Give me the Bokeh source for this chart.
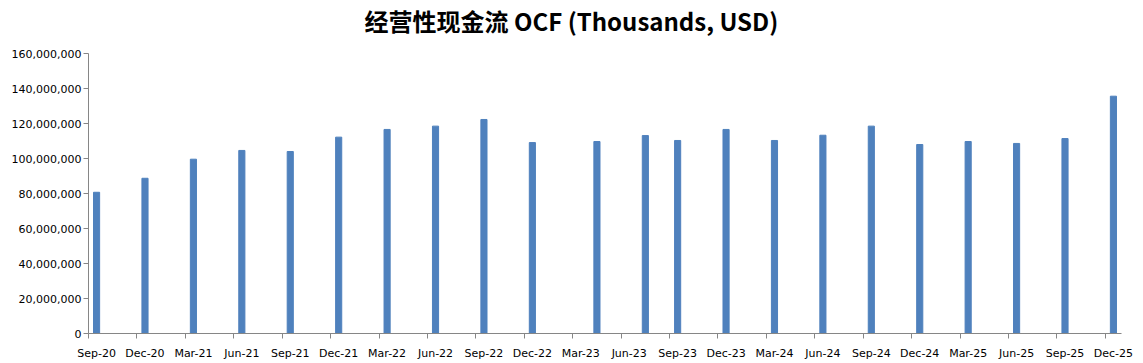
from bokeh.plotting import figure
from bokeh.models import FixedTicker, NumeralTickFormatter, Range1d, ColumnDataSource, Title
from bokeh.embed import file_html
from bokeh.resources import INLINE

# Report periods (year-month) and operating cash flow values (thousands USD)
periods = ["2020-09", "2020-12", "2021-03", "2021-06", "2021-09", "2021-12",
           "2022-03", "2022-06", "2022-09", "2022-12", "2023-04", "2023-07",
           "2023-09", "2023-12", "2024-03", "2024-06", "2024-09", "2024-12",
           "2025-03", "2025-06", "2025-09", "2025-12"]
ocf = [80.7e6, 88.7e6, 99.6e6, 104.6e6, 104.0e6, 112.2e6,
       116.6e6, 118.5e6, 122.3e6, 109.1e6, 109.7e6, 113.1e6,
       110.3e6, 116.6e6, 110.3e6, 113.3e6, 118.5e6, 108.0e6,
       109.7e6, 108.6e6, 111.4e6, 135.6e6]
tick_labels = ["Sep-20", "Dec-20", "Mar-21", "Jun-21", "Sep-21", "Dec-21",
               "Mar-22", "Jun-22", "Sep-22", "Dec-22", "Mar-23", "Jun-23",
               "Sep-23", "Dec-23", "Mar-24", "Jun-24", "Sep-24", "Dec-24",
               "Mar-25", "Jun-25", "Sep-25", "Dec-25"]
y_ticks = [0, 20e6, 40e6, 60e6, 80e6, 100e6, 120e6, 140e6, 160e6]
title_text = "经营性现金流 OCF (Thousands, USD)"


def month_index(s):
    y, m = s.split("-")
    return (int(y) - 2020) * 12 + (int(m) - 9)


xs = [month_index(p) + 0.5 for p in periods]
src = ColumnDataSource(dict(x=xs, top=ocf))

n_months = len(tick_labels) * 3 - 2  # Sep-20 .. Dec-25 inclusive
p = figure(width=1143, height=363, output_backend="svg", toolbar_location=None,
           x_range=Range1d(0, n_months), y_range=Range1d(0, 160e6),
           min_border_left=88, min_border_right=22, min_border_top=53,
           min_border_bottom=30)

p.vbar(x="x", top="top", width=0.38, source=src, color="#4F81BD")

# spacer between frame and title (pushes the title upward)
p.add_layout(Title(text=" ", text_font_size="12px", standoff=0), "above")

# title
p.title.text = title_text
p.title.text_font = "Noto Sans CJK SC"
p.title.text_font_size = "24px"
p.title.text_font_style = "bold"
p.title.text_line_height = 0.9
p.title.align = "left"
p.title.offset = 276
p.title.standoff = 0
p.title.text_color = "#000000"

p.outline_line_color = None
p.xgrid.grid_line_color = None
p.ygrid.grid_line_color = None
p.background_fill_color = "white"
p.border_fill_color = "white"

# x axis: labels centred in month cells, tick marks at cell boundaries
label_pos = [i * 3 + 0.5 for i in range(len(tick_labels))]
boundary = [i * 3 for i in range(len(tick_labels))]
xa = p.xaxis[0]
xa.ticker = FixedTicker(ticks=label_pos, minor_ticks=boundary)
xa.major_label_overrides = {pos: lab for pos, lab in zip(label_pos, tick_labels)}
xa.major_tick_line_color = None
xa.minor_tick_line_color = "#868686"
xa.minor_tick_out = 5
xa.minor_tick_in = 0
xa.axis_line_color = "#868686"
xa.major_label_text_font = "DejaVu Sans"
xa.major_label_text_font_size = "11px"
xa.major_label_text_color = "#000000"
xa.major_label_standoff = 7

ya = p.yaxis[0]
ya.ticker = FixedTicker(ticks=y_ticks)
ya.formatter = NumeralTickFormatter(format="0,0")
ya.axis_line_color = "#868686"
ya.major_tick_line_color = "#868686"
ya.major_tick_out = 5
ya.major_tick_in = 0
ya.minor_tick_line_color = None
ya.major_label_text_font = "DejaVu Sans"
ya.major_label_text_font_size = "11px"
ya.major_label_text_color = "#000000"
ya.major_label_standoff = 2

open("out.html", "w").write(file_html(p, INLINE))
